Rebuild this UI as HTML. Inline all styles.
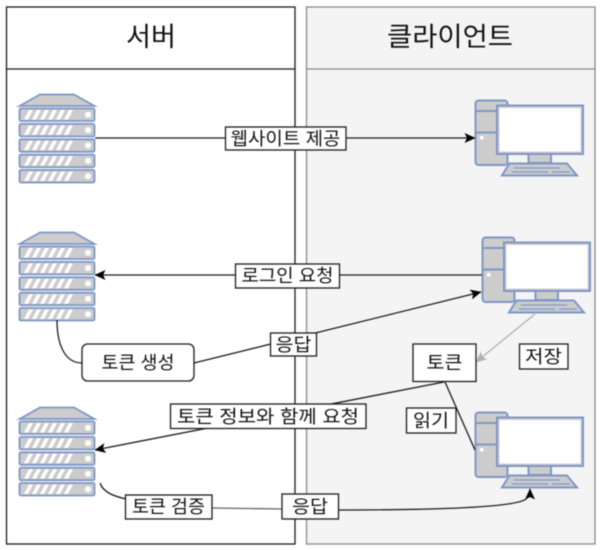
<!DOCTYPE html>
<html><head><meta charset="utf-8">
<style>
html,body{margin:0;padding:0;background:#fff;width:601px;height:550px;overflow:hidden}
svg{display:block;position:absolute;left:0;top:0;filter:blur(0.4px)}
text{font-family:"Liberation Sans","Noto Sans CJK KR",sans-serif;fill:#111;text-anchor:middle}
</style></head><body>
<svg width="601" height="550" viewBox="0 0 601 550">
<defs>
<g id="row">
<rect x="19.500" y="0.500" width="75" height="12.500" rx="1.500" fill="#ccc" stroke="#7e97c6" stroke-width="1.800"/>
<path d="M24 11.500L29 2h4L28 11.500zM32 11.500L37 2h4L36 11.500zM40 11.500L45 2h4L44 11.500zM48 11.500L53 2h4L52 11.500zM56 11.500L61 2h4L60 11.500zM64 11.500L69 2h4L68 11.500z" fill="#fff"/>
<circle cx="88" cy="6.700" r="3" fill="#fff"/>
</g>
<g id="server">
<path d="M19.500 106L40 94.500H74L94.500 106Z" fill="#ccc" stroke="#7e97c6" stroke-width="1.800"/>
<use href="#row" y="108"/><use href="#row" y="123.400"/><use href="#row" y="138.800"/><use href="#row" y="154.200"/><use href="#row" y="169.500"/>
</g>
<g id="pc" fill="#ccc" stroke="#7e97c6" stroke-width="2">
<rect x="475.500" y="100.500" width="32" height="64.500" rx="3"/>
<path d="M475.500 111H498M475.500 132.500H498" fill="none"/>
<rect x="480" y="136" width="3.500" height="3.500" fill="#fff" stroke="none"/>
<rect x="497" y="105.500" width="86" height="48.500"/>
<rect x="499.500" y="108" width="81" height="43.500" fill="#fff" stroke="none"/>
<rect x="528.500" y="154" width="22.500" height="9"/>
<path d="M509.500 163.500H567L577 175.500H502Z"/>
<path d="M514 168H560M512 172H548M552 172H570" fill="none" stroke-width="1.300"/>
</g>
<marker id="a" markerWidth="12" markerHeight="11" refX="10.500" refY="5.500" orient="auto" markerUnits="userSpaceOnUse"><path d="M0 0.500L11 5.500L0 10.500L2.500 5.500Z" fill="#000"/></marker>
<marker id="g" markerWidth="12" markerHeight="11" refX="10.500" refY="5.500" orient="auto" markerUnits="userSpaceOnUse"><path d="M0 0.500L11 5.500L0 10.500L2.500 5.500Z" fill="#b0b0b0"/></marker>
</defs>

<rect x="6.500" y="7" width="288.500" height="537" fill="#fff" stroke="#1c1c1c" stroke-width="1.300"/>
<line x1="6.500" y1="69" x2="295" y2="69" stroke="#1c1c1c" stroke-width="1.300"/>
<rect x="306.500" y="7" width="288.500" height="537" fill="#f4f4f4" stroke="#8a8a8a" stroke-width="1.300"/>
<line x1="306.500" y1="69" x2="595" y2="69" stroke="#8a8a8a" stroke-width="1.300"/>
<text x="151" y="46" font-size="26.500" textLength="50" lengthAdjust="spacingAndGlyphs">서버</text>
<text x="450" y="46" font-size="26.500" textLength="126" lengthAdjust="spacingAndGlyphs">클라이언트</text>

<use href="#server"/>
<use href="#server" y="138"/>
<use href="#server" y="313"/>
<use href="#pc"/>
<use href="#pc" x="7" y="137"/>
<use href="#pc" y="312"/>

<g fill="none" stroke="#1c1c1c" stroke-width="1.300">
<line x1="95" y1="138" x2="475" y2="138" marker-end="url(#a)"/>
<line x1="482" y1="275" x2="95" y2="275" marker-end="url(#a)"/>
<path d="M57 320C57 345 65 363 82 363"/>
<line x1="194" y1="363" x2="481" y2="292" marker-end="url(#a)"/>
<line x1="535" y1="314" x2="476" y2="362" stroke="#b0b0b0" marker-end="url(#g)"/>
<line x1="444" y1="382" x2="95" y2="450" marker-end="url(#a)"/>
<line x1="445" y1="382" x2="475" y2="450"/>
<path d="M100 483C103 492 113 496 126 499"/>
<path d="M212 508L282 509" stroke="#666"/>
<path d="M338 510C420 510 515 508 526 499C529 496 530 494 530 489" marker-end="url(#a)"/>
</g>

<g fill="#fff" stroke="#1c1c1c" stroke-width="1.300">
<rect x="82" y="344" width="112" height="37" rx="5.500"/>
<rect x="413" y="344" width="63" height="37.500"/>
<rect x="519.500" y="344" width="48.500" height="25"/>
<rect x="225.500" y="127" width="120.500" height="23"/>
<rect x="235.500" y="264" width="104" height="24"/>
<rect x="270.500" y="333" width="46" height="23"/>
<rect x="170.500" y="404" width="195.500" height="24.500"/>
<rect x="406.500" y="408" width="49.500" height="25"/>
<rect x="125.500" y="495" width="86.500" height="24"/>
<rect x="282" y="494" width="56.500" height="25"/>
</g>
<g font-size="18">
<text x="285.500" y="145" textLength="110" lengthAdjust="spacingAndGlyphs">웹사이트 제공</text>
<text x="287.500" y="282" textLength="92" lengthAdjust="spacingAndGlyphs">로그인 요청</text>
<text x="138" y="369" textLength="73" lengthAdjust="spacingAndGlyphs">토큰 생성</text>
<text x="293.500" y="351" textLength="36" lengthAdjust="spacingAndGlyphs">응답</text>
<text x="444.500" y="369" textLength="36" lengthAdjust="spacingAndGlyphs">토큰</text>
<text x="543.500" y="363" textLength="37" lengthAdjust="spacingAndGlyphs">저장</text>
<text x="268" y="423" textLength="182" lengthAdjust="spacingAndGlyphs">토큰 정보와 함께 요청</text>
<text x="431" y="427" textLength="36" lengthAdjust="spacingAndGlyphs">읽기</text>
<text x="168.500" y="513" textLength="73" lengthAdjust="spacingAndGlyphs">토큰 검증</text>
<text x="310" y="513" textLength="36" lengthAdjust="spacingAndGlyphs">응답</text>
</g>
</svg>
</body></html>
